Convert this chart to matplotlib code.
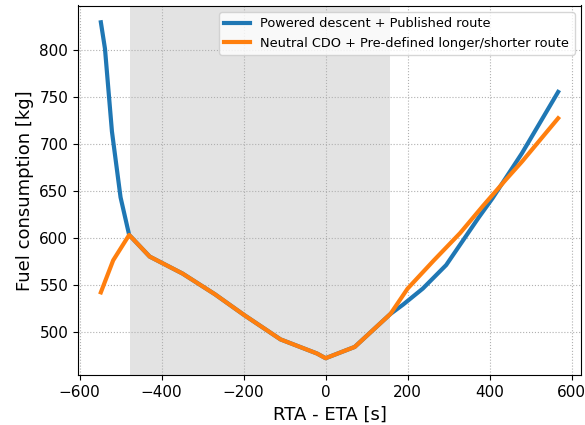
import matplotlib
matplotlib.use("Agg")
import matplotlib.pyplot as plt

# Data
blue_x = [-548, -538, -521, -500, -479, -429, -349, -270, -199, -110, -21, 0, 71, 158, 189, 237, 294, 374, 407, 479, 567]
blue_y = [829, 801, 713, 643, 603, 580, 562, 540, 518, 492, 477, 472, 484, 519, 529, 546, 571, 622, 642, 690, 755]
orange_x = [-548, -518, -479, -429, -349, -270, -199, -110, -21, 0, 71, 158, 200, 264, 328, 384, 440, 479, 567]
orange_y = [542, 576, 603, 580, 562, 540, 518, 492, 477, 472, 484, 519, 546, 576, 605, 634, 662, 681, 727]
labels = ["Powered descent + Published route", "Neutral CDO + Pre-defined longer/shorter route"]
span = [-478, 158]

fig = plt.figure(figsize=(5.85, 4.25), dpi=100)
ax = fig.add_axes([78/585, 1-375/425, (581-78)/585, (375-5.5)/425])
ax.axvspan(span[0], span[1], color="#e3e3e3", zorder=0, lw=0)
ax.plot(blue_x, blue_y, color="#1f77b4", lw=3, label=labels[0])
ax.plot(orange_x, orange_y, color="#ff7f0e", lw=3, label=labels[1])
ax.grid(True, linestyle=":", color="#b0b0b0", lw=0.8)
ax.set_axisbelow(True)
ax.set_xlabel("RTA - ETA [s]", fontsize=13)
ax.set_ylabel("Fuel consumption [kg]", fontsize=13)
ax.tick_params(labelsize=11)
ax.set_xticks([-600, -400, -200, 0, 200, 400, 600])
ax.set_yticks([500, 550, 600, 650, 700, 750, 800])
ax.legend(loc="upper right", fontsize=9.3)
fig.savefig("out.png", dpi=100)
